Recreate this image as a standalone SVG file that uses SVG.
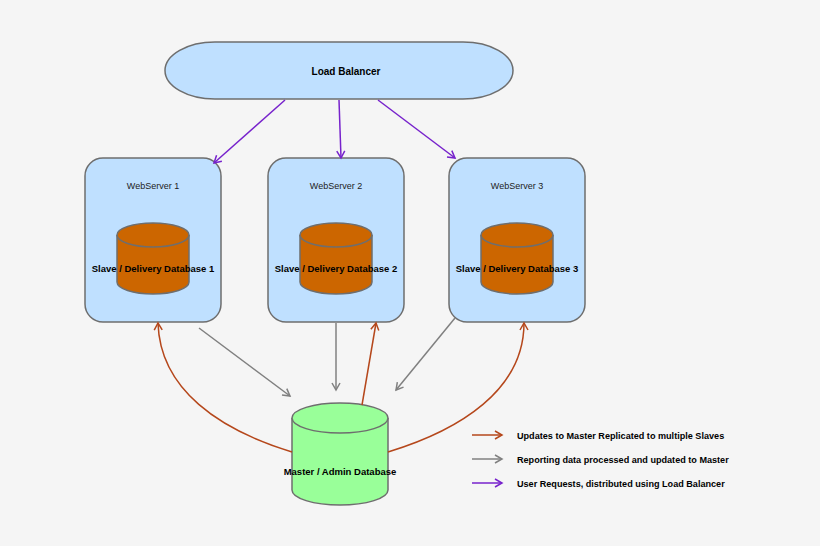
<svg xmlns="http://www.w3.org/2000/svg" width="820" height="546" viewBox="0 0 820 546">
<style>
.box{fill:#bfe0ff;stroke:#6e6e6e;stroke-width:1.5}
.cyl{fill:#cc6600;stroke:#6e6e6e;stroke-width:1.5}
.mcyl{fill:#99ff99;stroke:#6e6e6e;stroke-width:1.5}
.t{font-family:"Liberation Sans",Arial,sans-serif;font-size:10px;fill:#000}
.b{font-weight:bold}
.s{font-size:9.5px}
.l{font-size:9.1px}
.ws{font-size:9px;fill:#222}
.p{stroke:#7722cc;stroke-width:1.5;fill:none;marker-end:url(#mp)}
.g{stroke:#808080;stroke-width:1.5;fill:none;marker-end:url(#mg)}
.r{stroke:#b5471b;stroke-width:1.5;fill:none;marker-end:url(#mr)}
</style>
<defs>
<marker id="mp" markerWidth="10" markerHeight="10" refX="8" refY="5" orient="auto" markerUnits="userSpaceOnUse"><path d="M1,1 L8,5 L1,9" fill="none" stroke="#7722cc" stroke-width="1.5"/></marker>
<marker id="mg" markerWidth="10" markerHeight="10" refX="8" refY="5" orient="auto" markerUnits="userSpaceOnUse"><path d="M1,1 L8,5 L1,9" fill="none" stroke="#808080" stroke-width="1.5"/></marker>
<marker id="mr" markerWidth="10" markerHeight="10" refX="8" refY="5" orient="auto" markerUnits="userSpaceOnUse"><path d="M1,1 L8,5 L1,9" fill="none" stroke="#b5471b" stroke-width="1.5"/></marker>
</defs>
<rect width="820" height="546" fill="#f5f5f5"/>
<g id="lb"><rect x="165" y="42" width="348" height="57" rx="50" ry="28.5" class="box"/><text x="346" y="75" text-anchor="middle" class="t b">Load Balancer</text></g>
<g id="ws1"><rect x="85" y="158" width="136" height="164" rx="18" class="box"/><text x="153" y="189" text-anchor="middle" class="t ws">WebServer 1</text>
<path d="M117,235 V282 A36,12 0 0 0 189,282 V235" class="cyl"/><ellipse cx="153" cy="235" rx="36" ry="12" class="cyl"/><text x="153" y="272" text-anchor="middle" class="t b s">Slave / Delivery Database 1</text></g>
<g id="ws2"><rect x="268" y="158" width="136" height="164" rx="18" class="box"/><text x="336" y="189" text-anchor="middle" class="t ws">WebServer 2</text>
<path d="M300,235 V282 A36,12 0 0 0 372,282 V235" class="cyl"/><ellipse cx="336" cy="235" rx="36" ry="12" class="cyl"/><text x="336" y="272" text-anchor="middle" class="t b s">Slave / Delivery Database 2</text></g>
<g id="ws3"><rect x="449" y="158" width="136" height="164" rx="18" class="box"/><text x="517" y="189" text-anchor="middle" class="t ws">WebServer 3</text>
<path d="M481,235 V282 A36,12 0 0 0 553,282 V235" class="cyl"/><ellipse cx="517" cy="235" rx="36" ry="12" class="cyl"/><text x="517" y="272" text-anchor="middle" class="t b s">Slave / Delivery Database 3</text></g>
<g id="master"><path d="M292,418 V490 A48,15 0 0 0 388,490 V418" class="mcyl"/><ellipse cx="340" cy="418" rx="48" ry="15" class="mcyl"/><text x="340" y="475" text-anchor="middle" class="t b s">Master / Admin Database</text></g>
<g id="connectors">
<line x1="285" y1="100" x2="214" y2="163" class="p"/>
<line x1="339" y1="100" x2="341" y2="158" class="p"/>
<line x1="378" y1="100" x2="455" y2="158" class="p"/>
<line x1="199" y1="328" x2="290" y2="396" class="g"/>
<line x1="336" y1="323" x2="336" y2="390" class="g"/>
<line x1="455" y1="318" x2="396" y2="390" class="g"/>
<path d="M292,452 C220,430 160,390 158,323" class="r"/>
<path d="M362,405 L376,323" class="r"/>
<path d="M388,452 C460,430 524,390 524,323" class="r"/>
</g>
<g id="legend">
<line x1="472" y1="435" x2="502" y2="435" class="r"/>
<line x1="472" y1="459" x2="502" y2="459" class="g"/>
<line x1="472" y1="483" x2="502" y2="483" class="p"/>
<text x="517" y="439" class="t b l">Updates to Master Replicated to multiple Slaves</text>
<text x="517" y="463" class="t b l">Reporting data processed and updated to Master</text>
<text x="517" y="487" class="t b l">User Requests, distributed using Load Balancer</text>
</g>
</svg>
